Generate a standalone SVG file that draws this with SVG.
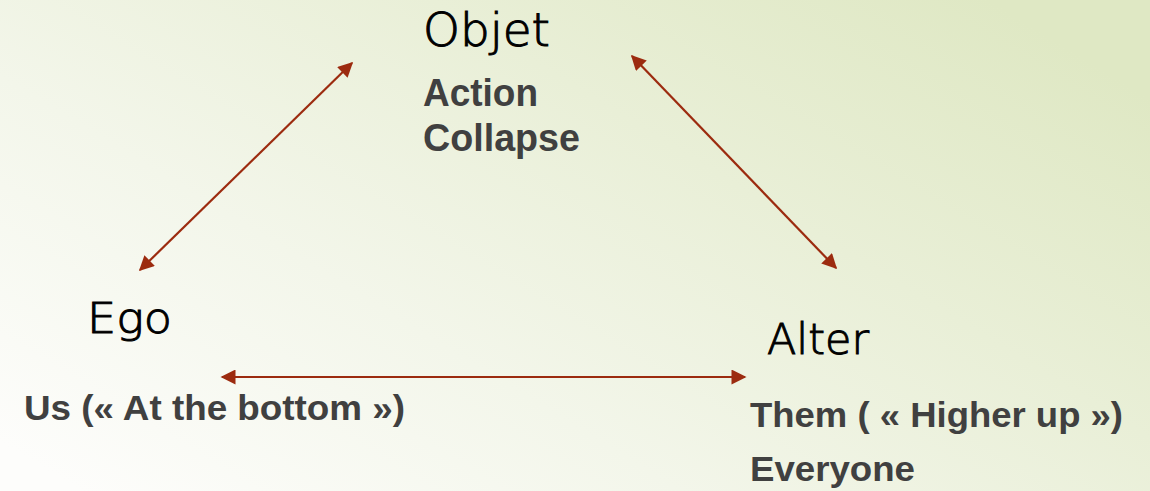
<svg xmlns="http://www.w3.org/2000/svg" width="1150" height="491" viewBox="0 0 1150 491">
<defs>
<linearGradient id="bg" x1="0" y1="0.9" x2="1" y2="0.2">
<stop offset="0" stop-color="#fdfdfb"/>
<stop offset="0.35" stop-color="#f3f6ea"/>
<stop offset="1" stop-color="#dfe8c4"/>
</linearGradient>
<marker id="ah" viewBox="0 0 10 10" refX="9" refY="5" markerWidth="18" markerHeight="15" markerUnits="userSpaceOnUse" orient="auto-start-reverse">
<path d="M0,0 L10,5 L0,10 z" fill="#9c2b0f"/>
</marker>
<style>
.t{font-family:"DejaVu Sans","Liberation Sans",sans-serif;font-weight:300;fill:#000;stroke:#000;stroke-width:1;}
.b{font-family:"Liberation Sans","DejaVu Sans",sans-serif;font-weight:bold;fill:#404040;}
.c{stroke:#9c2b0f;stroke-width:2.2;fill:none;marker-start:url(#ah);marker-end:url(#ah);}
</style>
</defs>
<rect x="0" y="0" width="1150" height="491" fill="url(#bg)"/>
<g id="connectors">
<line class="c" x1="140" y1="270" x2="352" y2="63"/>
<line class="c" x1="632" y1="56" x2="836" y2="268"/>
<line class="c" x1="222" y1="377" x2="745" y2="377"/>
</g>
<g id="objet">
<text class="t" x="423" y="46" font-size="46" textLength="127" lengthAdjust="spacingAndGlyphs">Objet</text>
<text class="b" x="423" y="106" font-size="38" textLength="115" lengthAdjust="spacingAndGlyphs">Action</text>
<text class="b" x="423" y="151" font-size="38" textLength="157" lengthAdjust="spacingAndGlyphs">Collapse</text>
</g>
<g id="ego">
<text class="t" x="87" y="333" font-size="43" textLength="85" lengthAdjust="spacingAndGlyphs">Ego</text>
<text class="b" x="24" y="420" font-size="35" textLength="381" lengthAdjust="spacingAndGlyphs">Us (« At the bottom »)</text>
</g>
<g id="alter">
<text class="t" x="767" y="354" font-size="43" textLength="102" lengthAdjust="spacingAndGlyphs">Alter</text>
<text class="b" x="750" y="427" font-size="35" textLength="373" lengthAdjust="spacingAndGlyphs">Them ( « Higher up »)</text>
<text class="b" x="750" y="481" font-size="35" textLength="165" lengthAdjust="spacingAndGlyphs">Everyone</text>
</g>
</svg>
